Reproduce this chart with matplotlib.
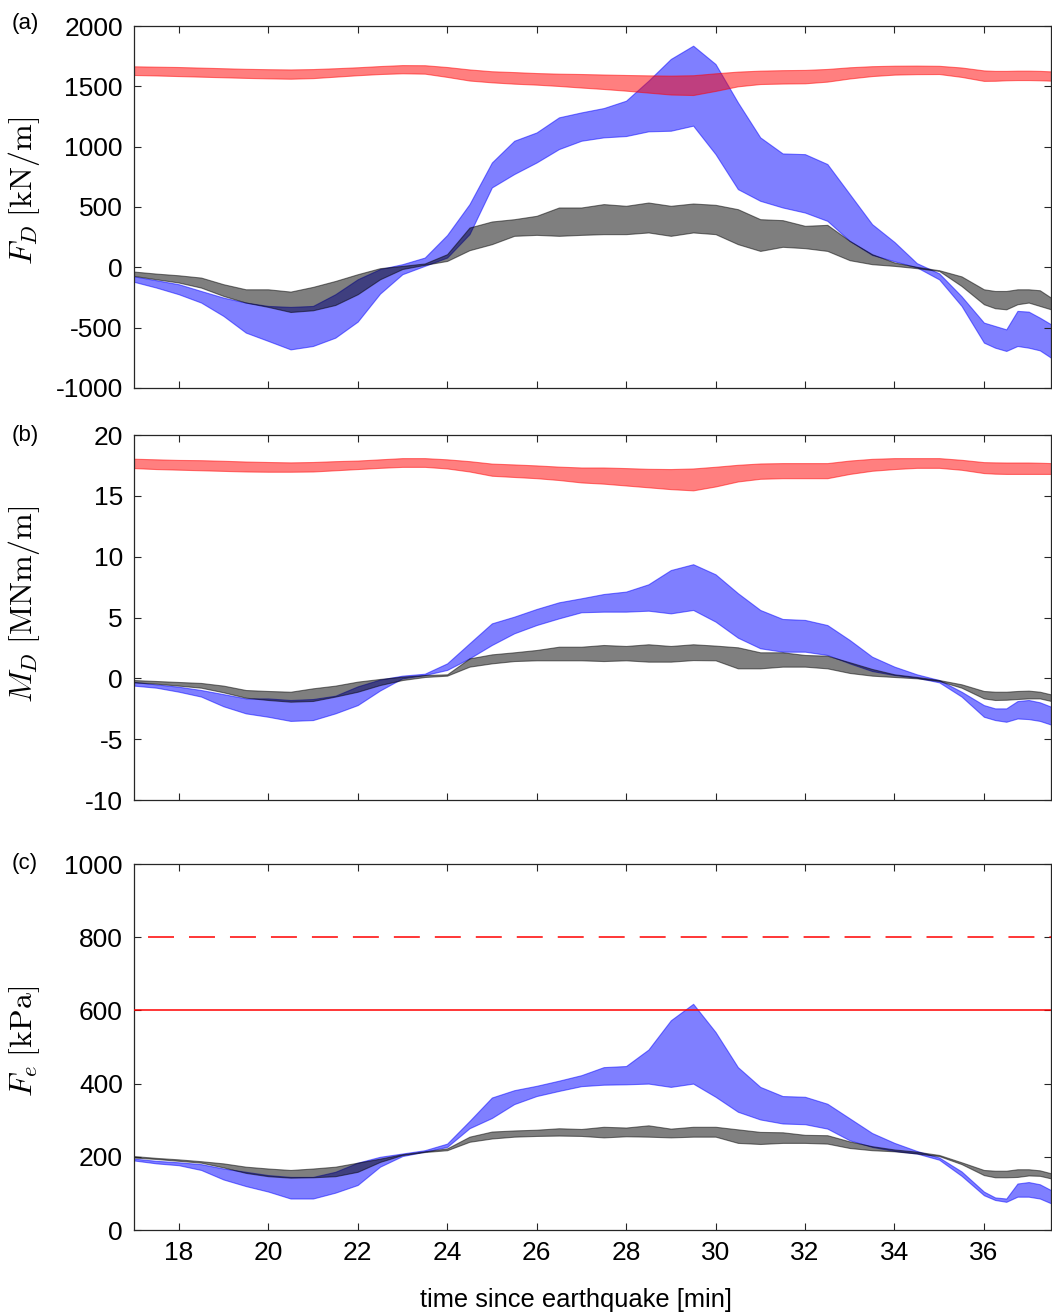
import matplotlib
matplotlib.use("Agg")
import matplotlib.pyplot as plt
import numpy as np

plt.rcParams['font.family'] = ['Liberation Sans', 'DejaVu Sans']
plt.rcParams['mathtext.fontset'] = 'cm'
plt.rcParams['axes.unicode_minus'] = False
plt.rcParams['lines.scale_dashes'] = False

# time since earthquake [min]
t = [17.0, 17.5, 18.0, 18.5, 19.0, 19.5, 20.0, 20.5, 21.0, 21.5, 22.0, 22.5,
     23.0, 23.5, 24.0, 24.5, 25.0, 25.5, 26.0, 26.5, 27.0, 27.5, 28.0, 28.5,
     29.0, 29.5, 30.0, 30.5, 31.0, 31.5, 32.0, 32.5, 33.0, 33.5, 34.0, 34.5,
     35.0, 35.5, 36.0, 36.25, 36.5, 36.75, 37.0, 37.25, 37.5]

# (a) force F_D [kN/m]
fd_red_hi = [1666, 1663, 1660, 1655, 1650, 1645, 1642, 1640, 1643, 1650, 1658, 1668,
             1676, 1675, 1660, 1640, 1625, 1618, 1610, 1605, 1602, 1598, 1594, 1591,
             1589, 1592, 1608, 1622, 1630, 1634, 1636, 1644, 1658, 1667, 1671, 1672,
             1670, 1656, 1632, 1628, 1628, 1630, 1630, 1628, 1624]
fd_red_lo = [1594, 1590, 1585, 1580, 1575, 1570, 1566, 1563, 1568, 1580, 1592, 1602,
             1608, 1605, 1578, 1548, 1533, 1522, 1514, 1503, 1490, 1478, 1464, 1448,
             1432, 1428, 1462, 1500, 1519, 1523, 1525, 1539, 1565, 1585, 1597, 1601,
             1602, 1578, 1545, 1546, 1550, 1552, 1552, 1550, 1547]
fd_blue_hi = [-75, -107, -140, -196, -251, -292, -320, -328, -320, -223, -99, -14,
              26, 81, 268, 524, 869, 1049, 1118, 1243, 1284, 1320, 1381, 1547,
              1727, 1837, 1685, 1367, 1077, 944, 938, 856, 607, 358, 210, 35,
              -50, -240, -458, -486, -514, -361, -367, -417, -472]
fd_blue_lo = [-120, -168, -223, -292, -403, -541, -610, -680, -652, -583, -450, -218,
              -57, 12, 81, 275, 662, 773, 869, 980, 1049, 1077, 1088, 1127,
              1132, 1174, 938, 648, 551, 496, 454, 385, 219, 103, 50, 0,
              -100, -320, -624, -666, -693, -652, -666, -688, -749]
fd_gray_hi = [-35, -52, -66, -85, -140, -182, -182, -201, -162, -113, -57, -7,
              12, 32, 109, 330, 380, 399, 427, 496, 496, 524, 510, 537,
              510, 529, 518, 482, 399, 391, 344, 352, 219, 109, 40, 4,
              -24, -75, -182, -196, -196, -182, -182, -190, -251]
fd_gray_lo = [-71, -99, -126, -168, -237, -292, -328, -370, -356, -312, -223, -99,
              -14, 21, 53, 142, 192, 261, 269, 261, 269, 275, 275, 289,
              261, 289, 275, 192, 136, 170, 159, 136, 59, 26, 12, -7,
              -30, -155, -306, -339, -348, -306, -292, -320, -348]

# (b) moment M_D [MNm/m]
md_red_hi = [18.05, 18.0, 17.95, 17.93, 17.88, 17.82, 17.78, 17.75, 17.78, 17.85, 17.9, 18.0,
             18.1, 18.1, 18.0, 17.85, 17.65, 17.58, 17.5, 17.4, 17.33, 17.33, 17.28, 17.22,
             17.2, 17.25, 17.39, 17.55, 17.66, 17.69, 17.69, 17.69, 17.9, 18.04, 18.1, 18.1,
             18.1, 17.96, 17.77, 17.75, 17.74, 17.74, 17.74, 17.72, 17.69]
md_red_lo = [17.28, 17.2, 17.15, 17.1, 17.05, 17.0, 16.98, 16.98, 17.0, 17.1, 17.2, 17.3,
             17.38, 17.38, 17.25, 17.0, 16.65, 16.55, 16.45, 16.3, 16.1, 16.0, 15.85, 15.7,
             15.55, 15.45, 15.77, 16.18, 16.4, 16.45, 16.45, 16.45, 16.8, 17.06, 17.2, 17.3,
             17.3, 17.14, 16.87, 16.82, 16.8, 16.8, 16.8, 16.8, 16.8]
md_blue_hi = [-0.3, -0.5, -0.69, -0.96, -1.3, -1.65, -1.65, -1.78, -1.7, -1.43, -0.66, -0.1,
              0.22, 0.38, 1.23, 2.88, 4.52, 5.07, 5.7, 6.25, 6.58, 6.93, 7.13, 7.73,
              8.9, 9.38, 8.55, 7.0, 5.62, 4.88, 4.8, 4.38, 3.15, 1.78, 0.96, 0.33,
              -0.14, -1.1, -2.2, -2.47, -2.47, -1.87, -1.78, -1.97, -2.33]
md_blue_lo = [-0.6, -0.77, -1.1, -1.5, -2.3, -2.88, -3.16, -3.5, -3.43, -2.88, -2.2, -1.0,
              0.0, 0.27, 0.69, 1.64, 2.74, 3.7, 4.38, 4.93, 5.43, 5.48, 5.48, 5.56,
              5.34, 5.62, 4.66, 3.34, 2.47, 2.19, 2.19, 1.92, 1.23, 0.6, 0.27, 0.05,
              -0.33, -1.5, -3.16, -3.43, -3.57, -3.3, -3.35, -3.5, -3.8]
md_gray_hi = [-0.14, -0.22, -0.3, -0.38, -0.6, -0.96, -1.04, -1.1, -0.82, -0.6, -0.27, -0.05,
              0.14, 0.27, 0.33, 1.64, 1.97, 2.14, 2.33, 2.6, 2.6, 2.74, 2.66, 2.8,
              2.66, 2.8, 2.69, 2.55, 2.14, 2.14, 1.92, 1.86, 1.32, 0.77, 0.33, 0.11,
              -0.14, -0.49, -1.04, -1.1, -1.1, -1.04, -1.01, -1.1, -1.32]
md_gray_lo = [-0.33, -0.44, -0.6, -0.77, -1.15, -1.59, -1.78, -1.92, -1.86, -1.5, -1.1, -0.55,
              -0.14, 0.11, 0.22, 0.96, 1.23, 1.42, 1.48, 1.48, 1.48, 1.42, 1.48, 1.37,
              1.37, 1.5, 1.48, 0.82, 0.82, 0.96, 0.96, 0.82, 0.44, 0.22, 0.11, 0.0,
              -0.22, -0.77, -1.65, -1.78, -1.76, -1.7, -1.65, -1.65, -1.86]

# (c) pressure F_e [kPa]
pe_blue_hi = [195, 189, 185, 180, 168, 159, 150, 145, 145, 159, 184, 200,
              209, 218, 236, 298, 362, 382, 394, 408, 423, 445, 448, 493,
              573, 618, 541, 445, 391, 366, 364, 345, 305, 265, 238, 216,
              198, 160, 105, 89, 86, 127, 131, 125, 109]
pe_blue_lo = [190, 182, 177, 164, 138, 120, 105, 86, 86, 102, 123, 173,
              202, 214, 227, 278, 306, 344, 366, 380, 393, 397, 398, 400,
              391, 400, 364, 323, 302, 291, 289, 277, 245, 227, 216, 209,
              192, 148, 95, 82, 77, 91, 91, 86, 73]
pe_gray_hi = [202, 197, 193, 188, 182, 173, 168, 164, 168, 173, 184, 195,
              207, 215, 223, 255, 269, 272, 274, 278, 276, 282, 280, 286,
              277, 282, 282, 275, 268, 267, 260, 259, 242, 229, 220, 214,
              205, 185, 164, 162, 162, 166, 166, 163, 155]
pe_gray_lo = [198, 194, 189, 184, 171, 156, 147, 143, 144, 147, 159, 186,
              205, 213, 218, 241, 250, 255, 257, 258, 257, 253, 256, 255,
              253, 255, 255, 238, 235, 238, 238, 236, 224, 218, 215, 209,
              202, 180, 150, 144, 144, 145, 149, 148, 141]
pe_limit_solid = 600
pe_limit_dashed = 800

x_ticks = [18, 20, 22, 24, 26, 28, 30, 32, 34, 36]
y_ticks_a = [-1000, -500, 0, 500, 1000, 1500, 2000]
y_ticks_b = [-10, -5, 0, 5, 10, 15, 20]
y_ticks_c = [0, 200, 400, 600, 800, 1000]

RED = (1.0, 0.0, 0.0)
BLUE = (0.0, 0.0, 1.0)
GRAY = (0.0, 0.0, 0.0)
SPINE = '#262626'

fig = plt.figure(figsize=(10.52, 13.15), dpi=100)
W, H = 1052.0, 1315.0
left, right = 134.0, 1051.0
boxes = [(26, 388), (435, 800), (864, 1230)]
axes = []
for top, bot in boxes:
    ax = fig.add_axes([left / W, 1 - bot / H, (right - left) / W, (bot - top) / H])
    axes.append(ax)


def band(ax, lo, hi, color):
    ax.fill_between(t, lo, hi, facecolor=color, edgecolor=color,
                    alpha=0.5, linewidth=0.8)


def style(ax, yticks, ylim, show_x):
    ax.set_xlim(17, 37.5)
    ax.set_ylim(*ylim)
    ax.set_xticks(x_ticks)
    ax.set_yticks(yticks)
    ax.tick_params(direction='in', top=True, right=True, length=5, width=0.8,
                   color=SPINE, labelsize=19, pad=8)
    if not show_x:
        ax.set_xticklabels([])
    for s in ax.spines.values():
        s.set_linewidth(0.9)
        s.set_color(SPINE)


ax_a, ax_b, ax_c = axes
LABEL_X = -0.100

band(ax_a, fd_blue_lo, fd_blue_hi, BLUE)
band(ax_a, fd_gray_lo, fd_gray_hi, GRAY)
band(ax_a, fd_red_lo, fd_red_hi, RED)
style(ax_a, y_ticks_a, (-1000, 2000), False)
ax_a.set_ylabel(r'$F_D\;[\mathrm{kN/m}]$', fontsize=23)
ax_a.yaxis.set_label_coords(LABEL_X, 0.544)

band(ax_b, md_blue_lo, md_blue_hi, BLUE)
band(ax_b, md_gray_lo, md_gray_hi, GRAY)
band(ax_b, md_red_lo, md_red_hi, RED)
style(ax_b, y_ticks_b, (-10, 20), False)
ax_b.set_ylabel(r'$M_D\;[\mathrm{MNm/m}]$', fontsize=23)
ax_b.yaxis.set_label_coords(LABEL_X, 0.537)

band(ax_c, pe_blue_lo, pe_blue_hi, BLUE)
band(ax_c, pe_gray_lo, pe_gray_hi, GRAY)
ax_c.axhline(pe_limit_solid, color='red', linewidth=1.1, zorder=5)
ax_c.axhline(pe_limit_dashed, color='red', linewidth=1.1, zorder=5,
             linestyle=(19.4, (18.7, 10.8)), dash_capstyle='butt')
style(ax_c, y_ticks_c, (0, 1000), True)
ax_c.set_ylabel(r'$F_e\;[\mathrm{kPa}]$', fontsize=23)
ax_c.yaxis.set_label_coords(LABEL_X, 0.516)

fig.text(576 / W, 1 - 1300 / H, 'time since earthquake [min]', fontsize=18.4,
         ha='center', va='center')

for label, yc in [('(a)', 24), ('(b)', 436), ('(c)', 864)]:
    fig.text(12 / W, 1 - yc / H, label, fontsize=16, ha='left', va='center')

fig.savefig('out.png', dpi=100)
